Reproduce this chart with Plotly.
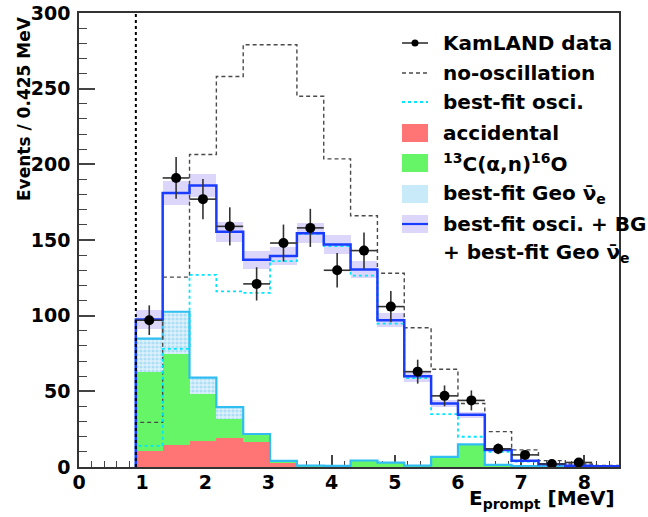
import numpy as np
import plotly.graph_objects as go

# Binning: 0.425 MeV bins starting at the 0.9 MeV analysis threshold
threshold = 0.9
bin_width = 0.425
n_bins = 18
edges = [round(threshold + bin_width * k, 4) for k in range(n_bins + 1)]
centers = [round(e + bin_width / 2, 4) for e in edges[:-1]]

# KamLAND candidate events per bin (statistical errors)
data_counts = [97, 191, 177, 159, 121, 148, 158, 130, 143, 106, 63, 47, 44, 12, 8, 2, 3]
data_errors = [9.8, 13.8, 13.3, 12.6, 11.0, 12.2, 12.6, 11.4, 12.0, 10.3, 7.9, 6.9, 6.6, 3.5, 2.8, 1.4, 1.7]

# Expectations per bin
no_oscillation = [29.5, 125.5, 206.5, 258, 279, 279, 245, 203.6, 166, 128, 92, 64.6, 42, 23.4, 11.3, 4.2, 2.0, 1.0]
best_fit_osci = [14, 78, 127, 116, 115, 136, 154, 146, 126.5, 94.7, 58.7, 35.0, 20, 10, 3.5, 1.5, 0.6, 0.3]
accidental = [10.8, 14.6, 17.4, 19.4, 16.8, 2.9, 0.4, 0.3, 0.3, 0.3, 0.3, 0.3, 0.3, 0.2, 0.2, 0.1, 0.1, 0.1]
c13_alpha_n = [52, 60, 31, 12.4, 4.4, 0.6, 0.3, 0.3, 4.0, 2.6, 0.6, 6.4, 14.6, 1.2, 0.4, 0.2, 0.1, 0.1]
geo_nu = [22, 28, 10.6, 7.7, 0.6, 0.5, 0.2, 0.1, 0, 0, 0, 0, 0, 0, 0, 0, 0, 0]
total_fit = [97.5, 181, 186, 155.5, 137, 139.5, 154.5, 147, 130.5, 97, 60, 42, 34.5, 11.3, 4.2, 1.8, 0.9, 0.5]
total_fit_band = [6, 7.7, 7.5, 6.6, 6, 6, 6.5, 6, 5.5, 4.5, 3.5, 2.5, 2, 1, 0.6, 0.4, 0.3, 0.2]

# Axis setup
x_range = [0, 8.55]
y_range = [0, 300]
y_ticks = [0, 50, 100, 150, 200, 250, 300]
x_ticks = [0, 1, 2, 3, 4, 5, 6, 7, 8]

RED = "#FF7474"
GREEN = "#66F566"
GEO_BG = "#DDF1FB"
GEO_DOT = "#7DCBF0"
GEO_EDGE = "#2FBDF2"
CYAN = "#00E6FF"
BLUE = "#1A3CFF"
LAVENDER = "#DCD7FA"
GRAY = "#444444"

FONT = "DejaVu Sans"


def step_xy(values):
    xs = [edges[0]] + list(edges)
    ys = [0] + list(values) + [0]
    return xs, ys


acc = np.array(accidental)
c13 = np.array(c13_alpha_n)
geo = np.array(geo_nu)
tot = np.array(total_fit)
band = np.array(total_fit_band)

fig = go.Figure()

# Uncertainty band of the total expectation
fig.add_trace(go.Bar(x=centers, y=2 * band, base=tot - band, width=bin_width,
                     marker=dict(color=LAVENDER, line=dict(width=0)), showlegend=False))

# Stacked backgrounds
fig.add_trace(go.Bar(x=centers, y=acc, base=np.zeros_like(acc), width=bin_width,
                     marker=dict(color=RED, line=dict(width=0)), showlegend=False))
fig.add_trace(go.Bar(x=centers, y=c13, base=acc, width=bin_width,
                     marker=dict(color=GREEN, line=dict(width=0)), showlegend=False))
fig.add_trace(go.Bar(x=centers, y=geo, base=acc + c13, width=bin_width,
                     marker=dict(color=GEO_BG, line=dict(width=0),
                                 pattern=dict(shape=".", fgcolor=GEO_DOT, size=4, solidity=0.5)),
                     showlegend=False))

# Outline of the background stack
sx, sy = step_xy(acc + c13 + geo)
fig.add_trace(go.Scatter(x=sx, y=sy, mode="lines", line=dict(color=GEO_EDGE, width=2.2, shape="hv"),
                         showlegend=False, hoverinfo="skip"))

# No-oscillation expectation
nx, ny = step_xy(no_oscillation)
fig.add_trace(go.Scatter(x=nx, y=ny, mode="lines",
                         line=dict(color="#4A4A4A", width=1.4, shape="hv", dash="4px,3px"),
                         showlegend=False, hoverinfo="skip"))

# Best-fit oscillated reactor spectrum
ox, oy = step_xy(best_fit_osci)
fig.add_trace(go.Scatter(x=ox, y=oy, mode="lines",
                         line=dict(color=CYAN, width=1.8, shape="hv", dash="dot"),
                         showlegend=False, hoverinfo="skip"))

# Best-fit oscillation + backgrounds + geo neutrinos
tx, ty = step_xy(total_fit)
fig.add_trace(go.Scatter(x=tx, y=ty, mode="lines", line=dict(color=BLUE, width=2.5, shape="hv"),
                         showlegend=False, hoverinfo="skip"))

# Data points
fig.add_trace(go.Scatter(
    x=centers[:len(data_counts)], y=data_counts, mode="markers",
    marker=dict(color="black", size=10),
    error_y=dict(type="data", array=data_errors, color="#333333", thickness=1.6, width=0),
    error_x=dict(type="constant", value=bin_width / 2, color="#333333", thickness=1.6, width=0),
    showlegend=False))

# Analysis threshold
fig.add_shape(type="line", xref="x", yref="y", x0=threshold, x1=threshold, y0=y_range[0], y1=y_range[1],
              line=dict(color="black", width=2, dash="dot"), layer="above")

# ---- legend drawn by hand (pixel positions converted to paper units) ----
L, R, T, B, W, H = 79, 29, 13, 50, 648, 517
PW, PH = W - L - R, H - T - B


def px(xp):
    return (xp - L) / PW


def py(yp):
    return (H - B - yp) / PH


sym_x0, sym_x1 = 402, 428
text_x = 441
rows = [43, 73, 102, 133, 163, 194, 224, 253]

# data marker entry
fig.add_shape(type="line", xref="paper", yref="paper", x0=px(sym_x0), x1=px(sym_x1),
              y0=py(rows[0]), y1=py(rows[0]), line=dict(color="#333333", width=1.6))
fig.add_shape(type="circle", xref="paper", yref="paper", x0=px(411.5), x1=px(418.5),
              y0=py(rows[0] - 3.5), y1=py(rows[0] + 3.5), fillcolor="black", line=dict(width=0))
# line entries
fig.add_shape(type="line", xref="paper", yref="paper", x0=px(sym_x0), x1=px(sym_x1),
              y0=py(rows[1]), y1=py(rows[1]), line=dict(color="#4A4A4A", width=1.4, dash="4px,3px"))
fig.add_shape(type="line", xref="paper", yref="paper", x0=px(sym_x0), x1=px(sym_x1),
              y0=py(rows[2]), y1=py(rows[2]), line=dict(color=CYAN, width=1.8, dash="dot"))
# filled entries
for row, col in [(rows[3], RED), (rows[4], GREEN), (rows[5], "#C9EAF9"), (rows[6], LAVENDER)]:
    fig.add_shape(type="rect", xref="paper", yref="paper", x0=px(sym_x0), x1=px(sym_x1),
                  y0=py(row + 9), y1=py(row - 9), fillcolor=col, line=dict(width=0))
fig.add_shape(type="line", xref="paper", yref="paper", x0=px(sym_x0), x1=px(sym_x1),
              y0=py(rows[6]), y1=py(rows[6]), line=dict(color=BLUE, width=2.2))

legend_texts = [
    "KamLAND data",
    "no-oscillation",
    "best-fit osci.",
    "accidental",
    "<sup>13</sup>C(α,n)<sup>16</sup>O",
    "best-fit Geo ν\u0304<sub>e</sub>",
    "best-fit osci. + BG",
    "+ best-fit Geo ν\u0304<sub>e</sub>",
]
for row, txt in zip(rows, legend_texts):
    fig.add_annotation(x=px(text_x), y=py(row), xref="paper", yref="paper", text=txt,
                       showarrow=False, xanchor="left", yanchor="middle",
                       font=dict(family=FONT, size=20, color="black", weight="bold"))

# Axis titles
fig.add_annotation(x=px(617), y=py(499), xref="paper", yref="paper",
                   text="E<sub>prompt</sub> [MeV]", showarrow=False, xanchor="right", yanchor="middle",
                   font=dict(family=FONT, size=20, color="black", weight="bold"))
fig.add_annotation(x=px(24), y=py(109), xref="paper", yref="paper",
                   text="Events / 0.425 MeV", textangle=-90, showarrow=False,
                   xanchor="center", yanchor="middle",
                   font=dict(family=FONT, size=17, color="black", weight="bold"))

tick_font = dict(family=FONT, size=19, color="black", weight="bold")
fig.update_layout(
    width=W, height=H,
    margin=dict(l=L, r=R, t=T, b=B, pad=0, autoexpand=False),
    paper_bgcolor="white", plot_bgcolor="white",
    barmode="overlay", bargap=0,
    showlegend=False,
    xaxis=dict(range=x_range, tickvals=x_ticks, ticktext=[str(v) for v in x_ticks],
               ticks="inside", ticklen=12, tickwidth=1.5, tickcolor=GRAY,
               minor=dict(ticks="inside", dtick=0.2, ticklen=6, tickwidth=1.2, tickcolor=GRAY),
               showgrid=False, zeroline=False, showline=True, linecolor="#333333", linewidth=1.5,
               mirror=True, tickfont=tick_font, ticklabelstandoff=-3, layer="below traces",
               automargin=False),
    yaxis=dict(range=y_range, tickvals=y_ticks, ticktext=[str(v) for v in y_ticks],
               ticks="inside", ticklen=16, tickwidth=1.5, tickcolor=GRAY,
               minor=dict(ticks="inside", dtick=10, ticklen=8, tickwidth=1.2, tickcolor=GRAY),
               showgrid=False, zeroline=False, showline=True, linecolor="#333333", linewidth=1.5,
               mirror=True, tickfont=tick_font, ticklabelstandoff=3, automargin=False),
)

fig.write_html("out.html")
